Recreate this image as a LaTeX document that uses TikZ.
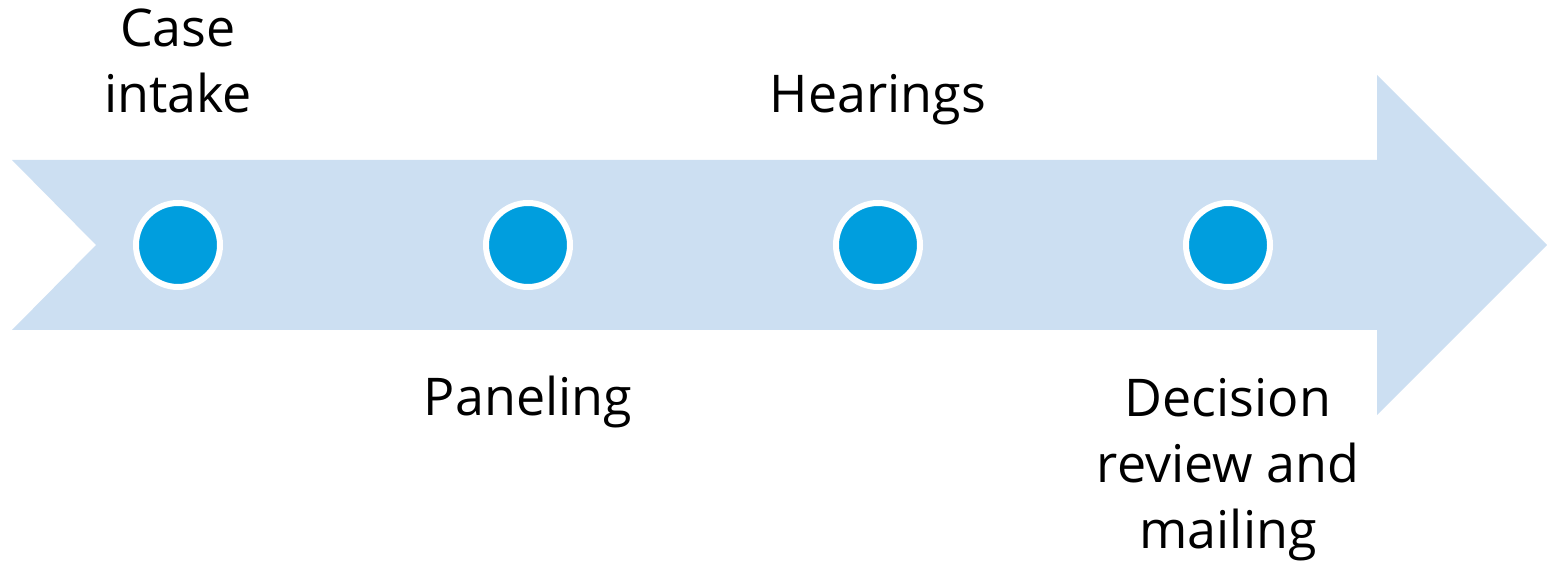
\documentclass[tikz,border=0pt]{standalone}
\usepackage{fontspec}
\setmainfont{Open Sans}
\usetikzlibrary{positioning}
\definecolor{arrowblue}{RGB}{204,223,242}
\definecolor{dotblue}{RGB}{0,158,222}
\tikzset
{
    stepdot/.style   = {circle, fill=dotblue, draw=white, line width=6pt, minimum size=84pt, inner sep=0pt},
    steplabel/.style = {align=center, font=\fontsize{52}{66}\selectfont, inner sep=0pt, anchor=base}
}

\begin{document}
\begin{tikzpicture}[x=1pt, y=1pt]
    \useasboundingbox (0,0) rectangle (1547,565);
    % big arrow
    \fill [arrowblue] (12,405) -- (1377,405) -- (1377,490) -- (1547,320)
        -- (1377,150) -- (1377,235) -- (12,235) -- (96,320) -- cycle;
    % dots
    \foreach \x/\name in {178/intake, 528/panel, 878/hear, 1228/decide}
    {
        \node [stepdot] (\name) at (\x,320) {};
    }
    % labels (base = baseline of the last line)
    \node [steplabel] (intakeText) at (178,452) {Case \\ intake};
    \node [steplabel] (hearText)   at (878,452) {Hearings};
    \node [steplabel] (panelText)  at (528,149) {Paneling};
    \node [steplabel] (decideText) at (1228,17) {Decision \\ review and \\ mailing};
\end{tikzpicture}
\end{document}
